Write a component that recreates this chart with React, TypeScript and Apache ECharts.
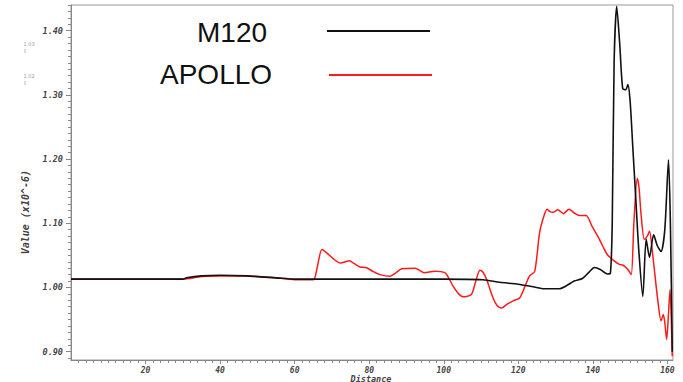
import React, { useEffect, useRef } from "react";
import * as echarts from "echarts";

// ---- Data ----
const m120Distance = [0, 30, 31, 35, 40, 47, 55, 60, 80, 100, 110.5, 115, 120, 124, 127, 131, 133, 135, 137.2, 139, 140.4, 142, 143.9, 144.7, 145.2, 145.7, 146.4, 147.2, 148, 148.8, 149.4, 150.0, 150.7, 151.5, 152.3, 153.4, 154.3, 155.2, 156.3, 157.3, 158.3, 159.3, 160.3, 160.8, 161.3];
const m120Value = [1.013, 1.013, 1.015, 1.018, 1.019, 1.018, 1.015, 1.013, 1.013, 1.013, 1.012, 1.008, 1.005, 1.001, 0.998, 0.998, 1.003, 1.01, 1.014, 1.024, 1.031, 1.028, 1.021, 1.022, 1.1, 1.35, 1.438, 1.38, 1.31, 1.308, 1.316, 1.29, 1.22, 1.14, 1.06, 0.986, 1.075, 1.047, 1.082, 1.065, 1.056, 1.09, 1.199, 1.1, 0.9];

const apolloDistance = [0, 30, 35, 40, 47, 55, 60, 65, 66, 67.3, 68.6, 70.5, 72.2, 74.7, 76, 77.5, 79.3, 81, 82.9, 85.6, 87, 88.7, 92.3, 94.7, 97.6, 100.3, 101.5, 102.5, 104, 105.2, 107.4, 108.6, 109.7, 110.5, 111.5, 113.2, 114.3, 115.5, 117, 118.6, 120.4, 121.8, 123, 124.4, 125.7, 126.8, 127.7, 128.5, 129.3, 130.6, 132.1, 133.6, 135, 136.4, 138.2, 139.8, 141.3, 142.6, 143.9, 145.8, 147.1, 148, 149.4, 150.3, 151.0, 151.9, 152.4, 152.9, 153.8, 154.6, 155.2, 156.0, 157.4, 158.3, 158.9, 159.3, 159.8, 160.3, 160.7, 161.3];
const apolloValue = [1.013, 1.013, 1.017, 1.018, 1.018, 1.015, 1.012, 1.012, 1.03, 1.059, 1.054, 1.044, 1.038, 1.0415, 1.037, 1.032, 1.0306, 1.025, 1.02, 1.0176, 1.022, 1.029, 1.03, 1.023, 1.0254, 1.023, 1.013, 1.002, 0.99, 0.9855, 0.989, 1.01, 1.027, 1.024, 1.0124, 0.984, 0.972, 0.968, 0.974, 0.979, 0.984, 1.002, 1.0176, 1.025, 1.085, 1.11, 1.122, 1.118, 1.117, 1.121, 1.115, 1.122, 1.116, 1.112, 1.112, 1.095, 1.08, 1.065, 1.051, 1.041, 1.036, 1.035, 1.028, 1.02, 1.1, 1.17, 1.155, 1.116, 1.075, 1.08, 1.0876, 1.054, 0.981, 0.948, 0.958, 0.945, 0.919, 0.96, 0.997, 0.893];

const xTickLabels = [20, 40, 60, 80, 100, 120, 140, 160];
const yTickLabels = [0.9, 1.0, 1.1, 1.2, 1.3, 1.4];
const seriesNames = ["M120", "APOLLO"];
const strayLabels = ["1.03", "1.02"];

const X_MIN = 0;
const X_MAX = 161.5;
const Y_MIN = 0.887;
const Y_MAX = 1.44;

const xMinor: number[] = [];
for (let v = 2; v <= 160; v += 2) xMinor.push(v);
const yMinor: number[] = [];
for (let i = 89; i <= 144; i++) yMinor.push(Math.round(i) / 100);

const labelFont = {
  fontFamily: "DejaVu Sans Mono",
  fontWeight: "bold" as const,
  fontStyle: "italic" as const,
  fontSize: 8,
  color: "#444",
};

export default function App() {
  const ref = useRef<HTMLDivElement>(null);
  useEffect(() => {
    if (!ref.current) return;
    const chart = echarts.init(ref.current, undefined, { renderer: "svg" });
    const m120 = m120Distance.map((d, i) => [d, m120Value[i]]);
    const apollo = apolloDistance.map((d, i) => [d, apolloValue[i]]);
    const axisLineStyle = { color: "#888", width: 1 };
    chart.setOption({
      animation: false,
      backgroundColor: "#fff",
      grid: {
        left: 71,
        top: 5,
        right: 10,
        bottom: 22,
        show: true,
        borderColor: "#999",
        borderWidth: 1,
        containLabel: false,
      },
      xAxis: [
        {
          type: "value",
          min: X_MIN,
          max: X_MAX,
          axisLine: { show: true, lineStyle: axisLineStyle },
          axisTick: { show: true, customValues: xTickLabels, length: 4, lineStyle: axisLineStyle },
          axisLabel: { ...labelFont, customValues: xTickLabels, margin: 6 },
          splitLine: { show: false },
        },
        {
          type: "value",
          position: "bottom",
          min: X_MIN,
          max: X_MAX,
          axisLine: { show: false },
          axisTick: { show: true, customValues: xMinor, length: 3, lineStyle: axisLineStyle },
          axisLabel: { show: false },
          splitLine: { show: false },
        },
      ],
      yAxis: [
        {
          type: "value",
          min: Y_MIN,
          max: Y_MAX,
          axisLine: { show: true, lineStyle: axisLineStyle },
          axisTick: { show: true, customValues: yTickLabels, length: 5, lineStyle: axisLineStyle },
          axisLabel: {
            ...labelFont,
            fontSize: 8.5,
            customValues: yTickLabels,
            margin: 8,
            formatter: (v: number) => v.toFixed(2),
          },
          splitLine: { show: false },
        },
        {
          type: "value",
          position: "left",
          min: Y_MIN,
          max: Y_MAX,
          axisLine: { show: false },
          axisTick: { show: true, customValues: yMinor, length: 3, lineStyle: axisLineStyle },
          axisLabel: { show: false },
          splitLine: { show: false },
        },
      ],
      series: [
        {
          name: seriesNames[1],
          type: "line",
          data: apollo,
          showSymbol: false,
          smooth: 0.25,
          lineStyle: { color: "#ff1a1a", width: 1.5 },
          z: 2,
        },
        {
          name: seriesNames[0],
          type: "line",
          data: m120,
          showSymbol: false,
          smooth: 0.25,
          lineStyle: { color: "#111", width: 1.6 },
          z: 3,
        },
      ],
      graphic: [
        {
          type: "text",
          left: 20,
          top: 170,
          rotation: Math.PI / 2,
          style: {
            text: "Value (x10^-6)",
            x: 0,
            y: 0,
            font: "italic bold 10px 'DejaVu Sans Mono'",
            fill: "#444",
            textAlign: "center",
            textVerticalAlign: "middle",
          },
          x: 28,
          y: 170,
        },
        {
          type: "text",
          x: 371,
          y: 378.5,
          style: {
            text: "Distance",
            font: "italic bold 8.5px 'DejaVu Sans Mono'",
            fill: "#444",
            textAlign: "center",
            textVerticalAlign: "middle",
          },
        },
        {
          type: "text",
          x: 197,
          y: 32,
          style: {
            text: seriesNames[0],
            font: "28px 'Liberation Sans'",
            fill: "#111",
            textAlign: "left",
            textVerticalAlign: "middle",
          },
        },
        {
          type: "line",
          shape: { x1: 327, y1: 31, x2: 430, y2: 31 },
          style: { stroke: "#111", lineWidth: 2 },
        },
        {
          type: "text",
          x: 160,
          y: 74,
          style: {
            text: seriesNames[1],
            font: "28px 'Liberation Sans'",
            fill: "#111",
            textAlign: "left",
            textVerticalAlign: "middle",
          },
        },
        {
          type: "line",
          shape: { x1: 329, y1: 75, x2: 432, y2: 75 },
          style: { stroke: "#ff1a1a", lineWidth: 2 },
        },
        {
          type: "text",
          x: 29,
          y: 44,
          style: { text: strayLabels[0], font: "5px 'DejaVu Sans'", fill: "#999", textAlign: "center", textVerticalAlign: "middle" },
        },
        {
          type: "line",
          shape: { x1: 25, y1: 49, x2: 25, y2: 53 },
          style: { stroke: "#aaa", lineWidth: 0.8 },
        },
        {
          type: "text",
          x: 29,
          y: 76,
          style: { text: strayLabels[1], font: "5px 'DejaVu Sans'", fill: "#999", textAlign: "center", textVerticalAlign: "middle" },
        },
        {
          type: "line",
          shape: { x1: 25, y1: 81, x2: 25, y2: 85 },
          style: { stroke: "#aaa", lineWidth: 0.8 },
        },
      ],
    });
    return () => chart.dispose();
  }, []);
  return (
    <div
      ref={ref}
      style={{ position: "fixed", left: 0, top: 0, width: 683, height: 382, background: "#fff" }}
    />
  );
}
